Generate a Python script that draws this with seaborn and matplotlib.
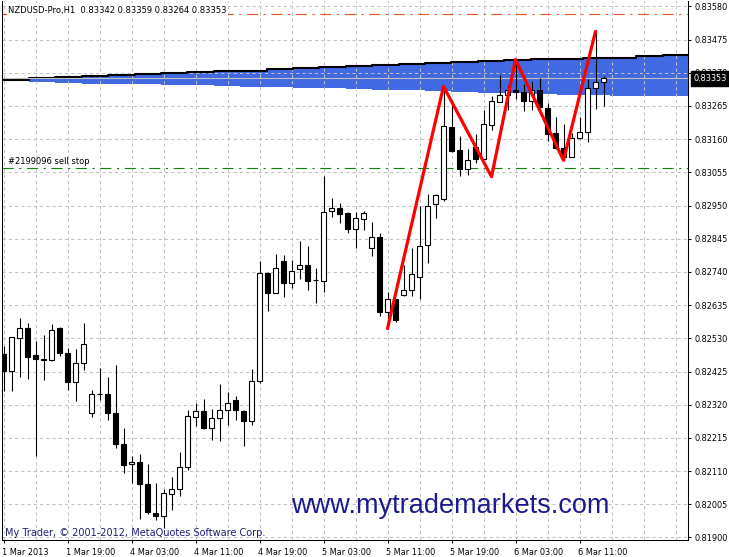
import numpy as np
import pandas as pd
import matplotlib
matplotlib.use("Agg")
import matplotlib.pyplot as plt
import matplotlib.transforms as mtransforms
import seaborn as sns

# ---------------- data ----------------
opens = [0.82479, 0.82426, 0.82532, 0.82563, 0.82476, 0.82462, 0.82460, 0.82563, 0.82484, 0.82392,
         0.82452, 0.82294, 0.82354, 0.82354, 0.82294, 0.82197, 0.82133, 0.82139, 0.82070, 0.81978,
         0.81967, 0.82037, 0.82054, 0.82122, 0.82282, 0.82301, 0.82247, 0.82278, 0.82304, 0.82336,
         0.82301, 0.82268, 0.82394, 0.82737, 0.82674, 0.82776, 0.82705, 0.82748, 0.82762, 0.82713,
         0.82711, 0.82933, 0.82943, 0.82927, 0.82876, 0.82906, 0.82816, 0.82851, 0.82613, 0.82653,
         0.82667, 0.82684, 0.82724, 0.82824, 0.82955, 0.82971, 0.83199, 0.83127, 0.83066, 0.83136,
         0.83098, 0.83204, 0.83278, 0.83300, 0.83314, 0.83310, 0.83280, 0.83316, 0.83259, 0.83178,
         0.83132, 0.83104, 0.83164, 0.83183, 0.83322, 0.83342]
highs = [0.82505, 0.82535, 0.82595, 0.82577, 0.82523, 0.82542, 0.82574, 0.82566, 0.82500, 0.82495,
         0.82580, 0.82368, 0.82437, 0.82408, 0.82446, 0.82247, 0.82157, 0.82165, 0.82133, 0.82071,
         0.82052, 0.82092, 0.82171, 0.82303, 0.82326, 0.82339, 0.82305, 0.82384, 0.82361, 0.82349,
         0.82303, 0.82433, 0.82774, 0.82740, 0.82798, 0.82795, 0.82779, 0.82837, 0.82823, 0.82751,
         0.83043, 0.82974, 0.82958, 0.82929, 0.82929, 0.82932, 0.82898, 0.82864, 0.82678, 0.82655,
         0.82763, 0.82816, 0.82948, 0.82985, 0.82987, 0.83327, 0.83280, 0.83169, 0.83129, 0.83175,
         0.83251, 0.83298, 0.83364, 0.83332, 0.83412, 0.83333, 0.83343, 0.83354, 0.83275, 0.83231,
         0.83209, 0.83180, 0.83231, 0.83349, 0.83501, 0.83359]
lows = [0.82363, 0.82363, 0.82407, 0.82400, 0.82157, 0.82397, 0.82457, 0.82473, 0.82368, 0.82331,
        0.82431, 0.82280, 0.82334, 0.82271, 0.82182, 0.82105, 0.82073, 0.81959, 0.81975, 0.81955,
        0.81931, 0.81986, 0.82031, 0.82113, 0.82252, 0.82242, 0.82208, 0.82204, 0.82255, 0.82273,
        0.82189, 0.82257, 0.82389, 0.82616, 0.82672, 0.82660, 0.82690, 0.82718, 0.82682, 0.82642,
        0.82676, 0.82914, 0.82895, 0.82864, 0.82816, 0.82874, 0.82790, 0.82602, 0.82561, 0.82583,
        0.82665, 0.82663, 0.82655, 0.82769, 0.82911, 0.82964, 0.83120, 0.83043, 0.83046, 0.83083,
        0.83096, 0.83190, 0.83276, 0.83251, 0.83288, 0.83248, 0.83251, 0.83259, 0.83153, 0.83130,
        0.83093, 0.83102, 0.83162, 0.83150, 0.83256, 0.83264]
closes = [0.82426, 0.82535, 0.82563, 0.82470, 0.82463, 0.82463, 0.82557, 0.82484, 0.82392, 0.82452,
          0.82513, 0.82354, 0.82355, 0.82294, 0.82196, 0.82129, 0.82139, 0.82068, 0.81981, 0.81967,
          0.82041, 0.82054, 0.82123, 0.82284, 0.82301, 0.82245, 0.82277, 0.82304, 0.82326, 0.82303,
          0.82268, 0.82396, 0.82737, 0.82674, 0.82753, 0.82705, 0.82744, 0.82762, 0.82711, 0.82714,
          0.82930, 0.82943, 0.82924, 0.82876, 0.82911, 0.82927, 0.82851, 0.82612, 0.82653, 0.82587,
          0.82684, 0.82732, 0.82823, 0.82950, 0.82982, 0.83203, 0.83122, 0.83066, 0.83095, 0.83098,
          0.83208, 0.83282, 0.83300, 0.83314, 0.83310, 0.83280, 0.83315, 0.83262, 0.83175, 0.83132,
          0.83104, 0.83164, 0.83183, 0.83322, 0.83341, 0.83353]

zz_bars = [48, 55, 61, 64, 70, 74]
zz_prices = [0.82561, 0.83327, 0.83041, 0.83412, 0.83093, 0.83501]

band_edges = [-0.19, 3.19, 6.49, 9.79, 13.09, 16.39, 19.69, 22.99, 26.29, 29.59, 32.89, 36.19,
              39.49, 42.79, 46.09, 49.39, 52.69, 55.99, 59.29, 62.59, 65.89, 69.19, 72.49, 75.79,
              79.09, 82.39, 85.56]
band_top = [0.83348, 0.83352, 0.83356, 0.83359, 0.83362, 0.83365, 0.83369, 0.83372, 0.83374,
            0.83377, 0.83381, 0.83384, 0.83388, 0.83391, 0.83395, 0.83398, 0.83402, 0.83403,
            0.83406, 0.83409, 0.83412, 0.83414, 0.83416, 0.83418, 0.83422, 0.83426]
band_bottom = [0.83348, 0.83342, 0.83339, 0.83336, 0.83335, 0.83334, 0.83332, 0.83331, 0.83327,
               0.83326, 0.83324, 0.83322, 0.83321, 0.83319, 0.83315, 0.83314, 0.83312, 0.83310,
               0.83307, 0.83305, 0.83303, 0.83301, 0.83299, 0.83298, 0.83296, 0.83296]

bid_price = 0.83353
sell_stop_price = 0.83069
stop_loss_price = 0.83557

price_ticks = [0.83580, 0.83475, 0.83370, 0.83265, 0.83160, 0.83055, 0.82950, 0.82845, 0.82740,
               0.82635, 0.82530, 0.82425, 0.82320, 0.82215, 0.82110, 0.82005, 0.81900]
time_tick_bars = [0, 8, 16, 24, 32, 40, 48, 56, 64, 72]
time_tick_labels = ["1 Mar 2013", "1 Mar 19:00", "4 Mar 03:00", "4 Mar 11:00", "4 Mar 19:00",
                    "5 Mar 03:00", "5 Mar 11:00", "5 Mar 19:00", "6 Mar 03:00", "6 Mar 11:00"]
grid_minor_bars = [4, 12, 20, 28, 36, 44, 52, 60, 68, 76, 80, 84]

title_text = "NZDUSD-Pro,H1  0.83342 0.83359 0.83264 0.83353"
order_text = "#2199096 sell stop"
copyright_text = "My Trader, \u00a9 2001-2012, MetaQuotes Software Corp."
watermark_text = "www.mytrademarkets.com"

# ---------------- style ----------------
sns.set_theme(style="white")
plt.rcParams['font.family'] = ['DejaVu Sans']
plt.rcParams['axes.linewidth'] = 0.75

W, H = 729, 557
fig = plt.figure(figsize=(W / 100, H / 100), dpi=100)
fig.patch.set_facecolor("white")
ax = fig.add_axes([2 / W, 17 / H, 686 / W, 539 / H])
ax.set_facecolor("white")

df = pd.DataFrame({"o": opens, "h": highs, "l": lows, "c": closes})
df["bar"] = np.arange(len(df))
df["up"] = df["c"] >= df["o"]
df["bottom"] = df[["o", "c"]].min(axis=1)
df["height"] = (df["c"] - df["o"]).abs().clip(lower=0.000004)

# band (filled, stepped)
top_ext = band_top + [band_top[-1]]
bot_ext = band_bottom + [band_bottom[-1]]
ax.fill_between(band_edges, bot_ext, top_ext, step="post", color="#4169E1", lw=0, zorder=1)
ax.step(band_edges, top_ext, where="post", color="black", lw=1.5, zorder=2)

# level lines
ax.axhline(bid_price, color="#C0C0C0", lw=0.8, zorder=2)
ax.axhline(sell_stop_price, color="#118011", lw=0.8, ls=(0, (10, 5, 2, 5)), zorder=2)
ax.axhline(stop_loss_price, color="#E8501E", lw=0.8, ls=(0, (10, 5, 2, 5)), zorder=2)

# candles
ax.vlines(df["bar"], df["l"], df["h"], colors="black", lw=0.8, zorder=3)
ax.bar(df["bar"], df["height"], bottom=df["bottom"], width=0.6,
       color=np.where(df["up"], "white", "black"), edgecolor="black", lw=0.8, zorder=4)

# zigzag
sns.lineplot(x=zz_bars, y=zz_prices, ax=ax, color="#FF0000", lw=2.3, zorder=5,
             sort=False, estimator=None)

# axes / grid
ax.set_xlim(-0.19, 85.56)
ax.set_ylim(0.81892, 0.83597)
ax.set_yticks(price_ticks)
ax.set_yticklabels([f"{p:.5f}" for p in price_ticks])
ax.yaxis.tick_right()
ax.set_xticks(time_tick_bars)
ax.set_xticks(grid_minor_bars, minor=True)
ax.set_xticklabels(time_tick_labels, ha="left")
ax.set_axisbelow("line")
ax.grid(True, which="both", color="#C0C0C0", lw=0.75, ls=(0, (3, 3)))
ax.tick_params(axis="y", which="major", right=True, left=False, length=2.5, width=0.75,
               pad=2.5, labelsize=5.9, colors="black")
ax.tick_params(axis="x", which="major", bottom=True, length=2.5, width=0.75, pad=3,
               labelsize=5.9, colors="black")
ax.tick_params(axis="x", which="minor", length=0)
offset = mtransforms.ScaledTranslation(-1.5 / 100, 0, fig.dpi_scale_trans)
for lab in ax.get_xticklabels():
    lab.set_transform(lab.get_transform() + offset)
for s in ["left", "right", "bottom"]:
    ax.spines[s].set_color("black")
    ax.spines[s].set_linewidth(0.75)
ax.spines["top"].set_visible(False)
ax.set_xlabel("")
ax.set_ylabel("")

# current price tag
ax.annotate(f"{bid_price:.5f}", xy=(1, bid_price), xycoords=("axes fraction", "data"),
            xytext=(4.3, 0), textcoords="offset points", ha="left", va="center",
            fontsize=5.9, color="white", annotation_clip=False, zorder=10,
            bbox=dict(boxstyle="square,pad=0.35", fc="black", ec="black"))

# texts
fig.text(8 / W, 1 - 11 / H, title_text, fontsize=6, va="center", ha="left", color="black",
         bbox=dict(boxstyle="square,pad=0.15", fc="white", ec="none"), zorder=10)
fig.text(8 / W, 1 - 161.5 / H, order_text, fontsize=6, va="center", ha="left", color="black")
fig.text(5 / W, 1 - 532.5 / H, copyright_text, fontsize=7, va="center", ha="left", color="#1f1f75")
fig.text(291 / W, 1 - 513 / H, watermark_text, fontsize=19.5, va="baseline", ha="left",
         color="#1b1b8f", family=["Liberation Sans", "DejaVu Sans"])

fig.savefig("out.png", dpi=100, facecolor="white")
